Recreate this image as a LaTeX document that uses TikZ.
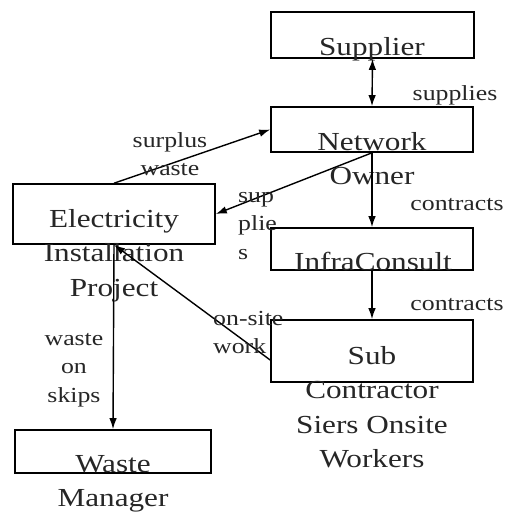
\documentclass[tikz,border=0pt]{standalone}
\usepackage{fontspec}
\newfontfamily\diafont[FakeStretch=1.2]{Liberation Serif}
\usetikzlibrary{arrows.meta}
\begin{document}
\begin{tikzpicture}[x=1pt,y=-1pt,
  box/.style={draw, line width=1.6pt, inner sep=0pt},
  boxtext/.style={inner sep=0pt, anchor=base, align=center, text=black!85,
    font={\diafont\fontsize{26}{34.5}\selectfont}},
  lbl/.style={inner sep=0pt, anchor=base, align=center, text=black!85,
    font={\diafont\fontsize{21.5}{28.5}\selectfont}},
  lbll/.style={lbl, anchor=base west, align=left},
  tip/.tip={Latex[length=11pt,width=7.5pt]},
  conn/.style={line width=1.4pt, -tip},
]
\useasboundingbox (0,0) rectangle (507,515);
% boxes
\node[box, minimum width=203pt, minimum height=46pt] (sup) at (372.5,35) {};
\node[box, minimum width=202pt, minimum height=45pt] (net) at (372,129.5) {};
\node[box, minimum width=202pt, minimum height=60pt] (elec) at (114,214) {};
\node[box, minimum width=202pt, minimum height=42pt] (infra) at (372,249) {};
\node[box, minimum width=202pt, minimum height=62pt] (sub) at (372,351) {};
\node[box, minimum width=196pt, minimum height=43pt] (waste) at (113,451.5) {};
% box texts (anchored at the baseline of the last line)
\node[boxtext] (supT) at (372,55) {Supplier};
\node[boxtext] (netT) at (372,184.5) {Network\\Owner};
\node[boxtext] (elecT) at (114,296) {Electricity\\Installation\\Project};
\node[boxtext] (infraT) at (373,270) {InfraConsult};
\node[boxtext] (subT) at (372,467.5) {Sub\\Contractor\\Siers Onsite\\Workers};
\node[boxtext] (wasteT) at (113,506.5) {Waste\\Manager};
% connectors
\draw[conn, tip-tip] (sup.south) -- (net.north);
\draw[conn] (net.south) -- (elec.east);
\draw[conn] (elec.north) -- (net.west);
\draw[conn] (net.south) -- (infra.north);
\draw[conn] (infra.south) -- (sub.north);
\draw[conn] ([yshift=-9pt]sub.west) -- (elec.south);
\draw[conn] (elec.south) -- (waste.north);
% labels
\node[lbl] (l1) at (455,100) {supplies};
\node[lbl] (l2) at (170,175.5) {surplus\\waste};
\node[lbll] (l3) at (238,259) {sup\\plie\\s};
\node[lbl] (l4) at (457,210) {contracts};
\node[lbl] (l5) at (457,310) {contracts};
\node[lbll] (l6) at (213,353.5) {on-site\\work};
\node[lbl] (l7) at (74,402) {waste\\on\\skips};
\end{tikzpicture}
\end{document}
